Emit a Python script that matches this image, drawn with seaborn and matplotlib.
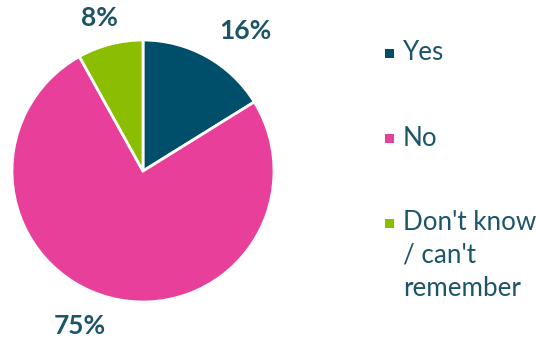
import matplotlib
matplotlib.use("Agg")
import matplotlib.pyplot as plt
from matplotlib.patches import Rectangle
import seaborn as sns

categories = ["Yes", "No", "Don't know\n/ can't\nremember"]
values = [16, 75, 8]
pct_labels = ["16%", "75%", "8%"]
colors = ["#004f6a", "#e8409a", "#8bbd00"]

sns.set_theme(style="white")
plt.rcParams['font.family'] = ['Lato', 'DejaVu Sans']
text_color = "#1d5568"

W, H = 536, 342
fig = plt.figure(figsize=(W / 100, H / 100), dpi=100)
cx, cy, r = 143, 171, 131
ax = fig.add_axes([(cx - r) / W, (H - cy - r) / H, 2 * r / W, 2 * r / H])
wedges, _ = ax.pie(values, colors=colors, startangle=90, counterclock=False,
                   wedgeprops=dict(edgecolor="white", linewidth=2))
ax.set_xlim(-1, 1)
ax.set_ylim(-1, 1)
ax.set_aspect("equal")
ax.axis("off")

label_pos = [(0.78, 1.07), (-0.48, -1.18), (-0.33, 1.17)]
for (x, y), t in zip(label_pos, pct_labels):
    ax.text(x, y, t, ha="center", va="center", fontsize=19, fontweight="bold",
            color=text_color, clip_on=False)

# legend
rows_y = [53, 138, 223]
for c, lab, yy in zip(colors, categories, rows_y):
    s = 9
    fig.patches.append(Rectangle(((389 - s / 2) / W, (H - yy - s / 2) / H), s / W, s / H,
                                 transform=fig.transFigure, facecolor=c, edgecolor="none"))
    lines = lab.split("\n")
    for i, ln in enumerate(lines):
        fig.text(403 / W, (H - yy - 32.5 * i) / H, ln, ha="left", va="center",
                 fontsize=18.7, color=text_color)

fig.savefig("out.png", dpi=100)
